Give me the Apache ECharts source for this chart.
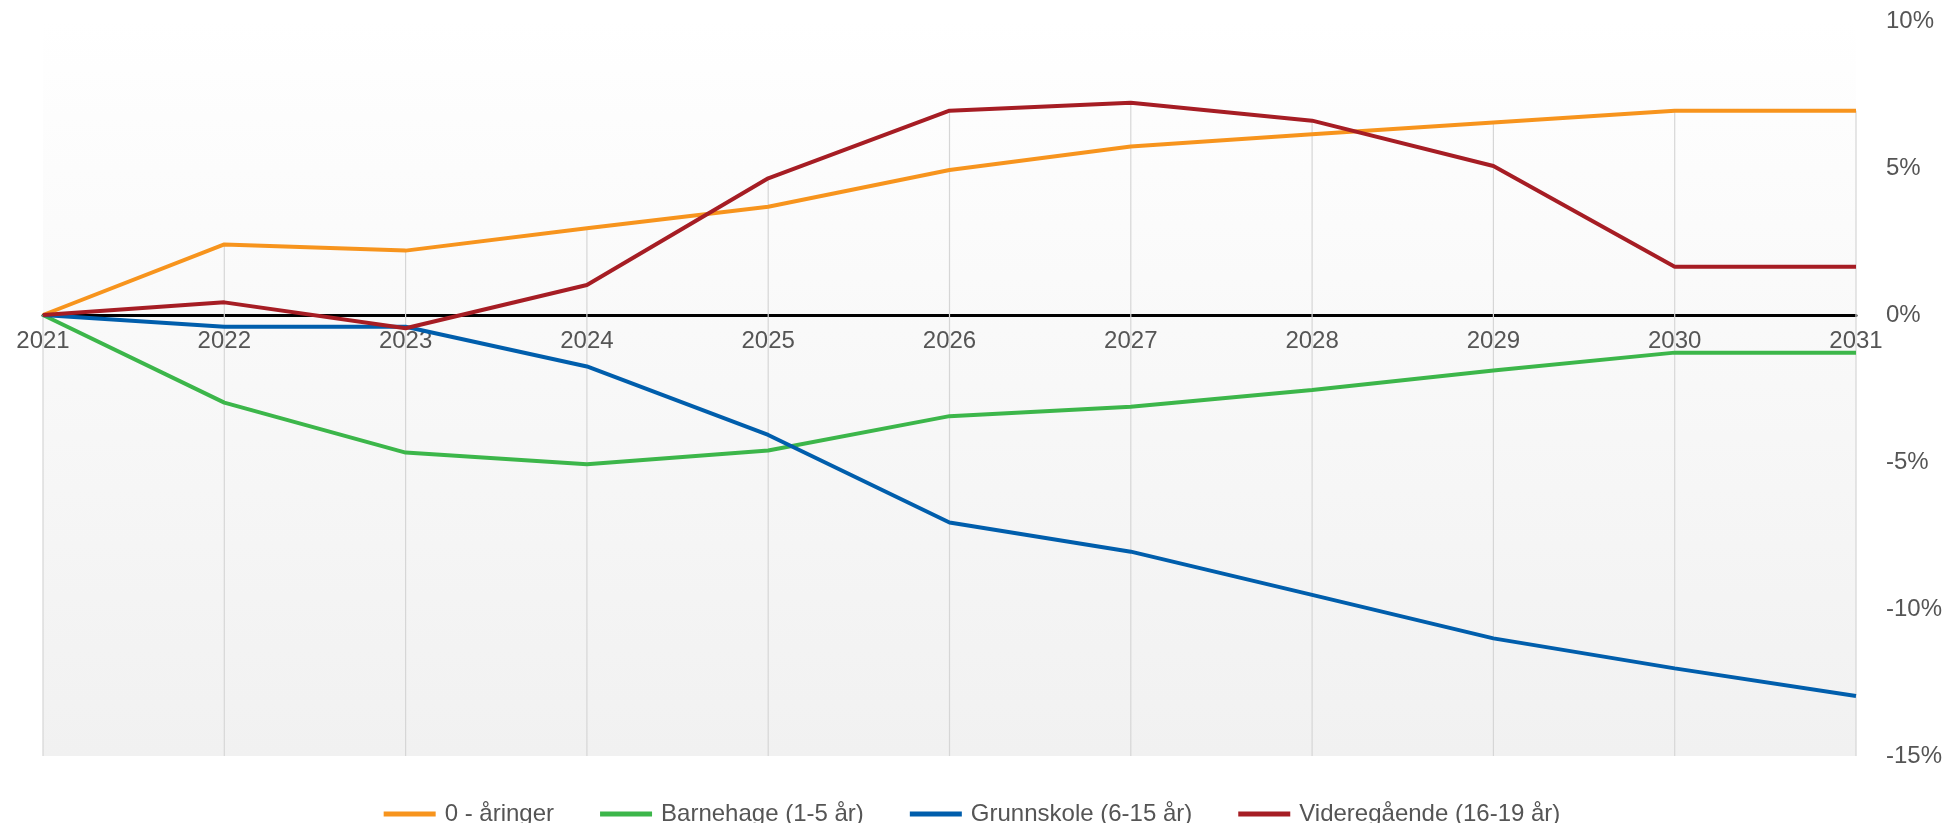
<!DOCTYPE html>
<html>
<head>
<meta charset="utf-8">
<script src="https://cdn.jsdelivr.net/npm/echarts@6/dist/echarts.min.js"></script>
<style>
html,body{margin:0;padding:0;background:#fff;}
#c{width:1944px;height:823px;}
</style>
</head>
<body>
<div id="c"></div>
<script>
const years = ['2021','2022','2023','2024','2025','2026','2027','2028','2029','2030','2031'];
const seriesNames = ['0 - åringer','Barnehage (1-5 år)','Grunnskole (6-15 år)','Videregående (16-19 år)'];
const nullaringer = [0, 2.40, 2.19, 2.95, 3.68, 4.93, 5.73, 6.15, 6.55, 6.95, 6.95];
const barnehage = [0, -2.98, -4.68, -5.08, -4.61, -3.44, -3.12, -2.55, -1.89, -1.28, -1.28];
const grunnskole = [0, -0.40, -0.40, -1.75, -4.08, -7.06, -8.05, -9.52, -11.0, -12.02, -12.96];
const videregaende = [0, 0.43, -0.45, 1.02, 4.65, 6.95, 7.22, 6.61, 5.07, 1.64, 1.64];
const yTicks = [-15, -10, -5, 0, 5, 10];
const colors = ['#f7941d', '#3cb64a', '#005eac', '#a61d24'];

const allSeries = [nullaringer, barnehage, grunnskole, videregaende];
const yMin = yTicks[0], yMax = yTicks[yTicks.length - 1];
const dropData = years.map((y, i) => [i, Math.max(...allSeries.map(s => s[i]))]);

const W = 1944, H = 823;
const gridTop = 21, gridBottom = 67;
const plotH = H - gridTop - gridBottom;
// shift the category axis (line + labels) up to the y = 0 level
const xAxisOffset = -plotH * (0 - yMin) / (yMax - yMin);

const chart = echarts.init(document.getElementById('c'), null, {renderer: 'canvas'});
const textColor = '#555555';
const font = 'Liberation Sans, Arial, sans-serif';

chart.setOption({
  animation: false,
  backgroundColor: '#ffffff',
  textStyle: {fontFamily: font},
  grid: {
    left: 43, right: 88, top: gridTop, bottom: gridBottom,
    containLabel: false,
    outerBoundsMode: 'none',
    show: true, borderWidth: 0,
    backgroundColor: new echarts.graphic.LinearGradient(0, 0, 0, 1, [
      {offset: 0, color: '#ffffff'},
      {offset: 0.13, color: '#fdfdfd'},
      {offset: 1, color: '#f1f1f1'}
    ])
  },
  legend: {
    data: seriesNames,
    top: 797,
    left: 'center',
    icon: 'rect',
    itemWidth: 52,
    itemHeight: 5,
    itemGap: 46,
    textStyle: {color: textColor, fontSize: 24, fontFamily: font, padding: [0, 0, 0, 4]}
  },
  xAxis: {
    type: 'category',
    data: years,
    boundaryGap: false,
    position: 'bottom',
    offset: xAxisOffset,
    axisLine: {onZero: false, lineStyle: {color: '#000000', width: 3}},
    axisTick: {show: false},
    splitLine: {show: false},
    axisLabel: {color: textColor, fontSize: 24, margin: 14, fontFamily: font, showMinLabel: true, showMaxLabel: true, interval: 0}
  },
  yAxis: {
    type: 'value',
    position: 'right',
    min: yMin, max: yMax, interval: 5,
    axisLine: {show: false},
    axisTick: {show: false},
    splitLine: {show: false},
    axisLabel: {color: textColor, fontSize: 24, margin: 30, fontFamily: font, formatter: '{value}%', verticalAlign: 'middle', padding: [7, 0, 0, 0]}
  },
  series: [
    {
      type: 'custom',
      silent: true,
      z: 1,
      data: dropData,
      renderItem: function (params, api) {
        const top = api.coord([api.value(0), api.value(1)]);
        const bot = api.coord([api.value(0), yMin]);
        return {
          type: 'line',
          shape: {x1: top[0], y1: top[1], x2: bot[0], y2: bot[1]},
          style: {stroke: '#d6d6d6', lineWidth: 1.2}
        };
      }
    },
    {name: seriesNames[0], type: 'line', data: nullaringer, color: colors[0], showSymbol: false, symbol: 'none', lineStyle: {width: 4, color: colors[0]}, z: 3},
    {name: seriesNames[1], type: 'line', data: barnehage, color: colors[1], showSymbol: false, symbol: 'none', lineStyle: {width: 4, color: colors[1]}, z: 3},
    {name: seriesNames[2], type: 'line', data: grunnskole, color: colors[2], showSymbol: false, symbol: 'none', lineStyle: {width: 4, color: colors[2]}, z: 3},
    {name: seriesNames[3], type: 'line', data: videregaende, color: colors[3], showSymbol: false, symbol: 'none', lineStyle: {width: 4, color: colors[3]}, z: 3}
  ]
});
</script>
</body>
</html>
